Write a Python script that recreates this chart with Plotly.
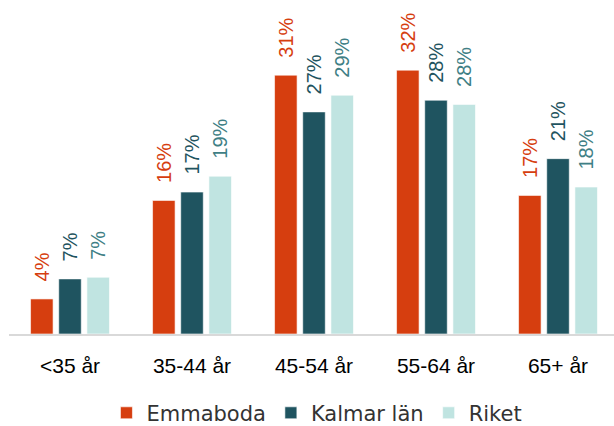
import plotly.graph_objects as go

categories = ["<35 år", "35-44 år", "45-54 år", "55-64 år", "65+ år"]
emmaboda = [4.2, 16.0, 31.0, 31.6, 16.6]
kalmar = [6.6, 17.0, 26.6, 28.0, 21.0]
riket = [6.8, 18.9, 28.6, 27.5, 17.6]

series = [
    ("Emmaboda", emmaboda, "#D63E0F", "#D63E0F"),
    ("Kalmar län", kalmar, "#1F5460", "#1F5460"),
    ("Riket", riket, "#C0E4E1", "#3F7F85"),
]

fig = go.Figure()
for name, vals, color, tcolor in series:
    fig.add_trace(go.Bar(
        x=categories, y=vals, name=name,
        marker=dict(color=color, line=dict(color="rgba(255,255,255,0.6)", width=1)),
        texttemplate="\u00a0\u00a0\u2006%{y:.0f}%",
        textposition="outside", textangle=-90, constraintext="none",
        textfont=dict(family="Liberation Sans, Arial, sans-serif", size=20, color=tcolor),
        cliponaxis=False,
    ))

fig.update_layout(
    width=614, height=426,
    margin=dict(l=9, r=0, t=0, b=92, autoexpand=False),
    paper_bgcolor="white", plot_bgcolor="white",
    barmode="group", bargap=0.307, bargroupgap=0.2,
    font=dict(family="Liberation Sans, Arial, sans-serif", color="#000000"),
    xaxis=dict(showline=True, linecolor="#D9D9D9", linewidth=2, automargin=False,
               range=[-0.5, 4.459],
               ticks="outside", ticklen=12, tickcolor="rgba(0,0,0,0)",
               tickfont=dict(size=21, color="#000000"), showgrid=False),
    yaxis=dict(visible=False, range=[0, 40.0], showgrid=False, automargin=False),
    legend=dict(orientation="h", x=0.509, xanchor="center", y=-0.237, yanchor="middle",
                font=dict(family="DejaVu Sans, sans-serif", size=21, color="#333333"),
                itemwidth=30),
    showlegend=True,
)
fig.write_html("out.html", config={"displayModeBar": False},
               post_script="document.body.style.margin='0';document.body.style.overflow='hidden';")
